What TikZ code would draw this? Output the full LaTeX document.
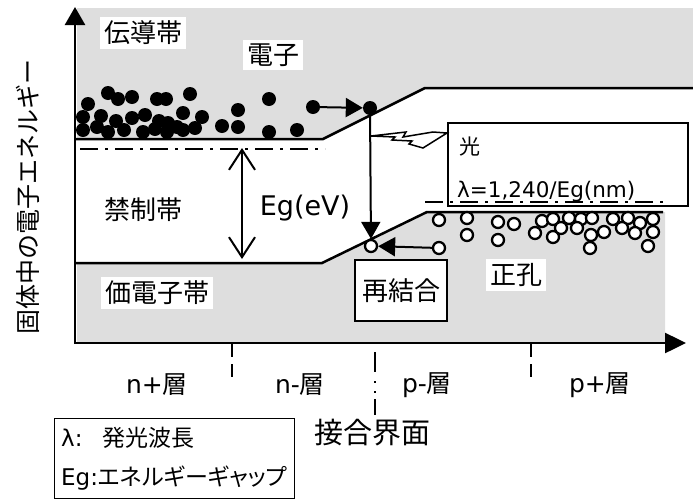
\documentclass[tikz,border=0pt]{standalone}
\usepackage{fontspec}
\setmainfont{Noto Sans CJK JP}
\newfontfamily\dv{DejaVu Sans}
\newfontfamily\jpp[RawFeature=+palt]{Noto Sans CJK JP}
\usetikzlibrary{arrows.meta}
\newcommand\fsz[1]{\fontsize{#1}{#1}\selectfont}
\begin{document}
\begin{tikzpicture}[x=1pt,y=-1pt,
  band/.style={line width=2.5pt},
  shade/.style={fill=black!13},
  dashdot/.style={line width=2.5pt, dash pattern=on 18pt off 7pt on 3pt off 7pt},
  axis/.style={line width=2.5pt},
  elec/.style={circle, fill=black, inner sep=0pt, minimum size=14pt},
  hole/.style={circle, draw=black, fill=white, line width=2.3pt, inner sep=0pt, minimum size=12pt},
  arr/.style={line width=2pt, -{Triangle[length=17pt,width=19pt]}},
  lab/.style={inner sep=4pt, fill=white, text=black},
  boxed/.style={draw=black, line width=2pt, fill=white, inner sep=0pt},
  sep/.style={line width=2pt, dash pattern=on 13pt off 7pt}
]
\useasboundingbox (0,0) rectangle (693,501);
% shaded bands
\fill[shade] (77,8) -- (693,8) -- (693,88) -- (425,88) -- (323,139) -- (77,139) -- cycle;
\fill[shade] (77,263) -- (322,263) -- (427,212) -- (665,212) -- (665,343) -- (77,343) -- cycle;
% band edges
\draw[band] (75,139) -- (323,139) -- (425,88) -- (693,88);
\draw[band] (75,263) -- (322,263) -- (427,212) -- (663,212);
\draw[dashdot] (80,149) -- (325,149);
% light box
\node[boxed, minimum width=240pt, minimum height=83pt, anchor=north west] (lbox) at (447,122) {};
\draw[dashdot] (425,202) -- (667,202);
\node[anchor=west, inner sep=0pt] (hikari) at (459,147) {\fsz{21}光};
\node[anchor=west, inner sep=0pt] (lam) at (457,192) {\dv\fsz{21.5}λ=1,240/Eg(nm)};
% axes
\coordinate (O) at (75,343);
\coordinate (ytop) at (75,7);
\coordinate (xend) at (686,343);
\draw[axis, {Triangle[length=18pt,width=20pt]}-{Triangle[length=21pt,width=20pt]}] (ytop) -- (O) -- (xend);
\node[rotate=90, inner sep=0pt] (ylab) at (28,197) {\fsz{25}固体中の電子エネルギー};
% labels
\node[lab] (cb) at (143,33) {\fsz{26}伝導帯};
\node[lab] (el) at (273,55) {\fsz{26}電子};
\node[inner sep=0pt] (kin) at (143,210) {\fsz{26}禁制帯};
\node[lab] (vb) at (157,293) {\fsz{26}価電子帯};
\node[lab] (sei) at (516,275) {\fsz{26}正孔};
\node[inner sep=0pt] (eg) at (305,208) {\dv\fsz{27}Eg(eV)};
% Eg arrow
\coordinate (egt) at (242,148);
\coordinate (egb) at (242,259);
\draw[line width=2pt, {Straight Barb[length=20pt,width=26pt]}-{Straight Barb[length=20pt,width=26pt]}] (egt) -- (egb);
% electrons
\foreach \x/\y in {108/93,118/99,132/97,157/99,166/99,190/94,269/99,
  88/104,83/117,101/116,116/121,132/118,145/115,159/121,168/123,183/113,202/117,238/110,
  83/130,97/127,108/132,124/130,143/132,155/129,167/132,177/127,183/130,195/128,222/126,238/127,269/132,297/130}
  \node[elec] at (\x,\y) {};
\node[elec] (e1) at (313,107) {};
\node[elec] (e2) at (370,108) {};
% holes
\foreach \x/\y in {439/220,467/218,498/222,514/224,542/221,553/219,569/218,581/219,592/218,613/219,628/218,640/223,653/219,
  467/235,498/240,535/233,553/237,561/228,577/228,591/235,604/232,622/228,635/233,653/232,
  590/248,648/246}
  \node[hole] at (\x,\y) {};
\node[hole] (h0) at (371,246) {};
\node[hole] (h1) at (439,248) {};
% transitions
\draw[arr] (e1) -- (e2);
\draw[arr] (e2) -- (h0);
\draw[arr] (h1) -- (h0);
% lightning
\draw[line width=1.5pt, fill=white, line join=miter] (371,136) -- (406,132) -- (403,137) -- (433,132) -- (447,133) -- (423,148) -- (409,144) -- (412,141) -- (392,140) -- (395,137) -- cycle;
% recombination box
\node[boxed, minimum width=92pt, minimum height=61pt] (rec) at (401,290.5) {\fsz{26}再結合};
% x-axis separators
\coordinate (s1a) at (232,344); \coordinate (s1b) at (232,384);
\coordinate (s3a) at (531,344); \coordinate (s3b) at (531,384);
\coordinate (s2a) at (375,352); \coordinate (s2b) at (375,415);
\draw[sep] (s1a) -- (s1b);
\draw[sep] (s3a) -- (s3b);
\draw[line width=2pt, dash pattern=on 20pt off 9pt on 2pt off 8pt on 2pt off 6pt] (s2a) -- (s2b);
\node[inner sep=0pt] (l1) at (157,385) {\fsz{25}{\dv n+}層};
\node[inner sep=0pt] (l2) at (300,385) {\fsz{25}{\dv n-}層};
\node[inner sep=0pt] (l3) at (427,385) {\fsz{25}{\dv p-}層};
\node[inner sep=0pt] (l4) at (600,385) {\fsz{25}{\dv p+}層};
\node[inner sep=0pt] (jn) at (372,433) {\fsz{29}接合界面};
% legend
\node[draw=black, line width=1.2pt, minimum width=240pt, minimum height=80pt, anchor=north west, inner sep=0pt] (leg) at (54,418) {};
\node[anchor=west, inner sep=0pt] (leg1) at (61,438) {\fsz{23}{\dv λ:}\hspace{20pt}発光波長};
\node[anchor=west, inner sep=0pt] (leg2) at (61,478) {\fsz{23}{\dv Eg:}{\jpp エネルギーギャップ}};
\end{tikzpicture}
\end{document}
